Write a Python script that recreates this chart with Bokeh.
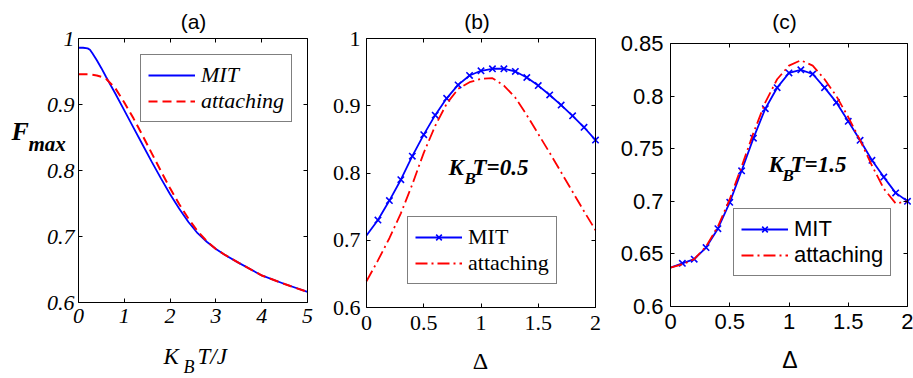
from bokeh.plotting import figure
from bokeh.models import Range1d, LinearAxis, FixedTicker, Label, Legend, LegendItem
from bokeh.layouts import row
from bokeh.embed import file_html
from bokeh.resources import INLINE

# ---------------- data ----------------
titles = ["(a)", "(b)", "(c)"]
series_names = ["MIT", "attaching"]

# panel (a): F_max versus K_B T / J
kbt = [0.0, 0.1, 0.2, 0.25, 0.3, 0.4, 0.5, 0.6, 0.8, 1.0, 1.2, 1.4, 1.6, 1.8, 2.0,
       2.2, 2.4, 2.6, 2.8, 3.0, 3.2, 3.5, 4.0, 4.5, 5.0]
fmax_mit_a = [0.986, 0.986, 0.985, 0.983, 0.978, 0.967, 0.955, 0.942, 0.917, 0.891, 0.865,
              0.839, 0.813, 0.788, 0.764, 0.742, 0.722, 0.705, 0.692, 0.681, 0.672, 0.660,
              0.641, 0.628, 0.616]
fmax_att_a = [0.946, 0.946, 0.946, 0.946, 0.945, 0.944, 0.942, 0.939, 0.925, 0.903, 0.879,
              0.853, 0.826, 0.799, 0.773, 0.749, 0.727, 0.708, 0.693, 0.681, 0.672, 0.660,
              0.641, 0.628, 0.616]

# panels (b), (c): versus Delta
delta = [0.0, 0.1, 0.2, 0.3, 0.4, 0.5, 0.6, 0.7, 0.8, 0.9, 1.0,
         1.1, 1.2, 1.3, 1.4, 1.5, 1.6, 1.7, 1.8, 1.9, 2.0]
fmax_mit_b = [0.707, 0.730, 0.759, 0.790, 0.825, 0.857, 0.886, 0.911, 0.931, 0.945, 0.952,
              0.955, 0.955, 0.951, 0.942, 0.930, 0.916, 0.901, 0.885, 0.868, 0.849]
fmax_att_b = [0.639, 0.670, 0.703, 0.740, 0.783, 0.830, 0.870, 0.903, 0.925, 0.935, 0.940,
              0.941, 0.930, 0.912, 0.886, 0.858, 0.830, 0.801, 0.772, 0.743, 0.715]
fmax_mit_c = [0.637, 0.641, 0.645, 0.656, 0.674, 0.699, 0.729, 0.760, 0.788, 0.808, 0.822,
              0.825, 0.821, 0.808, 0.794, 0.776, 0.758, 0.739, 0.723, 0.708, 0.700]
fmax_att_c = [0.637, 0.640, 0.645, 0.657, 0.676, 0.702, 0.733, 0.765, 0.794, 0.816, 0.829,
              0.834, 0.829, 0.816, 0.800, 0.780, 0.758, 0.734, 0.712, 0.698, 0.700]

# ticks
a_xticks = [0, 1, 2, 3, 4, 5]
a_xlabels = ["0", "1", "2", "3", "4", "5"]
a_yticks = [0.6, 0.7, 0.8, 0.9, 1.0]
a_ylabels = ["0.6", "0.7", "0.8", "0.9", "1"]
b_xticks = [0, 0.5, 1, 1.5, 2]
b_xlabels = ["0", "0.5", "1", "1.5", "2"]
b_yticks = [0.6, 0.7, 0.8, 0.9, 1.0]
b_ylabels = ["0.6", "0.7", "0.8", "0.9", "1"]
c_xticks = [0, 0.5, 1, 1.5, 2]
c_xlabels = ["0", "0.5", "1", "1.5", "2"]
c_yticks = [0.6, 0.65, 0.7, 0.75, 0.8, 0.85]
c_ylabels = ["0.6", "0.65", "0.7", "0.75", "0.8", "0.85"]

# ---------------- layout / style ----------------
BLUE = "#0000ff"
RED = "#ff0000"
SERIF = "Liberation Serif"
SANS = "Liberation Sans"
H = 378


class Geo:
    """maps figure pixels (from top-left) to data values for one panel"""
    def __init__(self, W, box, xlim, ylim):
        self.W = W
        self.l, self.r, self.t, self.b = box
        self.xlim, self.ylim = xlim, ylim
        self.kx = (xlim[1] - xlim[0]) / (self.r - self.l)
        self.ky = (ylim[1] - ylim[0]) / (self.b - self.t)

    def x(self, px):
        return self.xlim[0] + (px - self.l) * self.kx

    def y(self, py):
        return self.ylim[0] + (self.b - py) * self.ky


def base_fig(g, xticks, xlabels, yticks, ylabels, font, fstyle, xstand, ystand):
    p = figure(width=g.W, height=H,
               x_range=Range1d(g.x(0), g.x(g.W)), y_range=Range1d(g.y(H), g.y(0)),
               x_axis_type=None, y_axis_type=None,
               output_backend="svg", toolbar_location=None,
               min_border=0, min_border_left=0, min_border_right=0,
               min_border_top=0, min_border_bottom=0,
               background_fill_color="white", border_fill_color="white")
    p.title.visible = False
    p.outline_line_color = None
    x0, x1 = g.xlim
    y0, y1 = g.ylim
    bottom = LinearAxis(fixed_location=y0, bounds=(x0, x1), ticker=FixedTicker(ticks=xticks))
    top = LinearAxis(fixed_location=y1, bounds=(x0, x1), ticker=FixedTicker(ticks=xticks))
    left = LinearAxis(fixed_location=x0, bounds=(y0, y1), ticker=FixedTicker(ticks=yticks))
    right = LinearAxis(fixed_location=x1, bounds=(y0, y1), ticker=FixedTicker(ticks=yticks))
    p.add_layout(bottom, "below")
    p.add_layout(top, "above")
    p.add_layout(left, "left")
    p.add_layout(right, "right")
    for ax in (bottom, left, top, right):
        ax.major_tick_in = 4
        ax.major_tick_out = 0
        ax.minor_tick_line_color = None
        ax.axis_line_color = "black"
        ax.axis_line_width = 1
        ax.major_tick_line_color = "black"
    for ax in (top, right):
        ax.major_label_text_font_size = "1px"
        ax.major_label_text_color = None
        ax.major_label_standoff = 0
    bottom.major_label_overrides = dict(zip(xticks, xlabels))
    left.major_label_overrides = dict(zip(yticks, ylabels))
    for ax in (bottom, left):
        ax.major_label_text_font = font
        ax.major_label_text_font_style = fstyle
        ax.major_label_text_font_size = "22px"
        ax.major_label_text_color = "black"
    bottom.major_label_standoff = xstand
    left.major_label_standoff = ystand
    return p


def lab(p, g, px, py, text, font, size, style, align="left"):
    p.add_layout(Label(x=g.x(px), y=g.y(py), text=text, text_font=font, text_font_size=size,
                       text_font_style=style, text_align=align, text_baseline="alphabetic",
                       text_color="black"))


def legend(p, items, loc, font, style):
    leg = Legend(items=items, location=loc, orientation="vertical",
                 border_line_color="black", border_line_width=1,
                 background_fill_color="white", background_fill_alpha=1,
                 padding=7, spacing=0, margin=0, glyph_width=47, glyph_height=20,
                 label_standoff=6, label_height=20,
                 label_text_font=font, label_text_font_style=style,
                 label_text_font_size="22px", label_text_color="black")
    p.add_layout(leg)


# ---------------- panel (a) ----------------
ga = Geo(330, (78, 307, 38, 302), (0, 5), (0.6, 1.0))
pa = base_fig(ga, a_xticks, a_xlabels, a_yticks, a_ylabels, SERIF, "italic", 6, 4)
ra1 = pa.line(kbt, fmax_mit_a, line_color=BLUE, line_width=1.8)
ra2 = pa.line(kbt, fmax_att_a, line_color=RED, line_width=2, line_dash="9 5")
legend(pa, [LegendItem(label=series_names[0], renderers=[ra1]),
            LegendItem(label=series_names[1], renderers=[ra2])], (140, 256), SERIF, "italic")
lab(pa, ga, 193, 21, titles[0], SANS, "21px", "normal", "center")
lab(pa, ga, 11, 131, "F", SERIF, "26px", "bold italic")
lab(pa, ga, 28, 143, "max", SERIF, "21px", "bold italic")
lab(pa, ga, 163, 356, "K", SERIF, "23px", "italic")
lab(pa, ga, 183, 366, "B", SERIF, "18px", "italic")
lab(pa, ga, 197, 356, "T/J", SERIF, "23px", "italic")

# ---------------- panel (b) ----------------
gb = Geo(285, (36, 265, 38, 307), (0, 2), (0.6, 1.0))
pb = base_fig(gb, b_xticks, b_xlabels, b_yticks, b_ylabels, SERIF, "normal", 8, 6)
rb1 = pb.line(delta, fmax_mit_b, line_color=BLUE, line_width=1.8)
rb1m = pb.scatter(delta[1:], fmax_mit_b[1:], marker="x", size=9, line_color=BLUE, line_width=1.6)
rb2 = pb.line(delta, fmax_att_b, line_color=RED, line_width=1.8, line_dash="12 4 2 4")
legend(pb, [LegendItem(label=series_names[0], renderers=[rb1, rb1m]),
            LegendItem(label=series_names[1], renderers=[rb2])], (77, 94), SERIF, "normal")
lab(pb, gb, 146.5, 21, titles[1], SANS, "21px", "normal", "center")
lab(pb, gb, 150, 360, "Δ", SERIF, "24px", "normal", "center")
lab(pb, gb, 118, 167, "K", SERIF, "23px", "bold italic")
lab(pb, gb, 134, 178, "B", SERIF, "17px", "bold italic")
lab(pb, gb, 142, 167, "T=0.5", SERIF, "23px", "bold italic")

# ---------------- panel (c) ----------------
gc = Geo(298, (55, 292, 43, 306), (0, 2), (0.6, 0.85))
pc = base_fig(gc, c_xticks, c_xlabels, c_yticks, c_ylabels, SANS, "normal", 7, 7)
rc1 = pc.line(delta, fmax_mit_c, line_color=BLUE, line_width=1.8)
rc1m = pc.scatter(delta[1:], fmax_mit_c[1:], marker="x", size=9, line_color=BLUE, line_width=1.6)
rc2 = pc.line(delta, fmax_att_c, line_color=RED, line_width=1.8, line_dash="12 4 2 4")
legend(pc, [LegendItem(label=series_names[0], renderers=[rc1, rc1m]),
            LegendItem(label=series_names[1], renderers=[rc2])], (118, 102), SANS, "normal")
lab(pc, gc, 169, 21, titles[2], SANS, "21px", "normal", "center")
lab(pc, gc, 174.5, 359, "Δ", SANS, "23px", "normal", "center")
lab(pc, gc, 153, 164, "K", SERIF, "23px", "bold italic")
lab(pc, gc, 167, 175, "B", SERIF, "17px", "bold italic")
lab(pc, gc, 175, 164, "T=1.5", SERIF, "23px", "bold italic")

layout = row(pa, pb, pc)
open("out.html", "w").write(file_html(layout, INLINE))
